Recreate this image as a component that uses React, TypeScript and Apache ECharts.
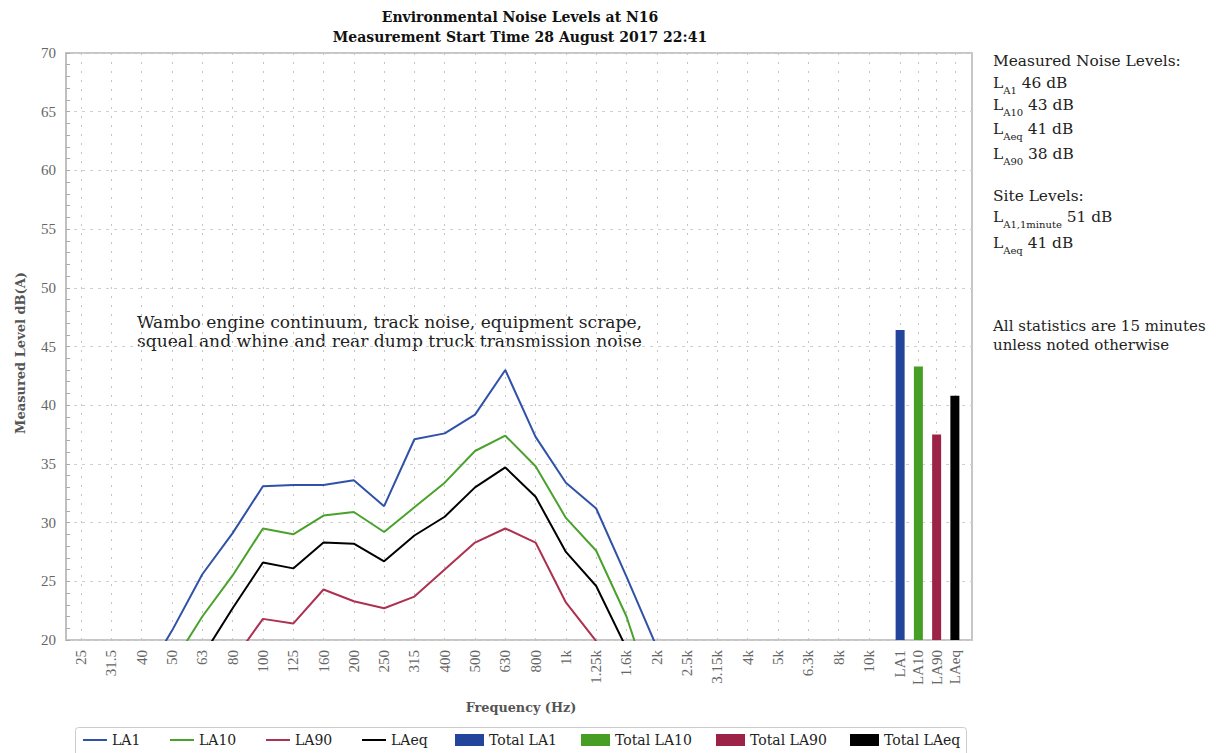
import React, { useEffect, useRef } from "react";
import * as echarts from "echarts";

// ---------- data ----------
const frequencies = ["25", "31.5", "40", "50", "63", "80", "100", "125", "160", "200", "250", "315", "400", "500", "630", "800", "1k", "1.25k", "1.6k", "2k", "2.5k", "3.15k", "4k", "5k", "6.3k", "8k", "10k"];
const totalCategories = ["LA1", "LA10", "LA90", "LAeq"];

const la1 = [null, null, 16.5, 20.8, 25.6, 29.1, 33.1, 33.2, 33.2, 33.6, 31.4, 37.1, 37.6, 39.2, 43.0, 37.3, 33.4, 31.2, 25.4, 19.4, null, null, null, null, null, null, null];
const la10 = [null, null, null, 17.9, 22.0, 25.5, 29.5, 29.0, 30.6, 30.9, 29.2, 31.3, 33.4, 36.1, 37.4, 34.8, 30.4, 27.6, 22.0, 14.2, null, null, null, null, null, null, null];
const la90 = [null, null, null, null, null, 18.2, 21.8, 21.4, 24.3, 23.3, 22.7, 23.7, 26.0, 28.3, 29.5, 28.3, 23.2, 19.9, null, null, null, null, null, null, null, null, null];
const laeq = [null, null, null, null, 18.6, 22.7, 26.6, 26.1, 28.3, 28.2, 26.7, 28.9, 30.5, 33.0, 34.7, 32.2, 27.5, 24.6, 19.3, null, null, null, null, null, null, null, null];
const totalValues = [46.4, 43.3, 37.5, 40.8];

const lineNames = ["LA1", "LA10", "LA90", "LAeq"];
const barNames = ["Total LA1", "Total LA10", "Total LA90", "Total LAeq"];

const titleLines = ["Environmental Noise Levels at N16", "Measurement Start Time 28 August 2017 22:41"];
const annotationLines = ["Wambo engine continuum, track noise, equipment scrape,", "squeal and whine and rear dump truck transmission noise"];
const yAxisTitle = "Measured Level dB(A)";
const xAxisTitle = "Frequency (Hz)";

// right-hand notes: [main, subscript, rest]
const measuredHeader = "Measured Noise Levels:";
const measuredRows = [
  ["L", "A1", " 46 dB"],
  ["L", "A10", " 43 dB"],
  ["L", "Aeq", " 41 dB"],
  ["L", "A90", " 38 dB"],
];
const siteHeader = "Site Levels:";
const siteRows = [
  ["L", "A1,1minute", " 51 dB"],
  ["L", "Aeq", " 41 dB"],
];
const footnoteLines = ["All statistics are 15 minutes", "unless noted otherwise"];

// ---------- styles ----------
const lineColors = ["#2f51a8", "#4aa22c", "#ad3150", "#000000"];
const barColors = ["#22449a", "#469f24", "#9c2247", "#000000"];
const SERIF = "DejaVu Serif";
const TICK_FONT = "Liberation Serif";

const GRID_LEFT = 66;
const GRID_TOP = 53;
const GRID_W = 906;
const GRID_H = 587;

export default function App() {
  const ref = useRef<HTMLDivElement>(null);

  useEffect(() => {
    if (!ref.current) return;
    const chart = echarts.init(ref.current, undefined, { renderer: "svg" });

    const tickLabel = {
      fontFamily: TICK_FONT,
      fontSize: 15,
      color: "#666",
    };
    const dotted = { color: "#c4c4c4", type: [2, 7] as any, width: 1 };

    const lineSeries = [la1, la10, la90, laeq].map((d, i) => ({
      name: lineNames[i],
      type: "line",
      xAxisIndex: 1,
      yAxisIndex: 1,
      data: d,
      symbol: "none",
      connectNulls: false,
      clip: true,
      lineStyle: { color: lineColors[i], width: 2 },
      itemStyle: { color: lineColors[i] },
      z: 3,
    }));

    const barSeries = totalValues.map((v, i) => ({
      name: barNames[i],
      type: "bar",
      xAxisIndex: 2,
      yAxisIndex: 2,
      data: totalCategories.map((_, j) => (j === i ? v : "-")),
      barWidth: 9,
      barGap: "-100%",
      clip: true,
      itemStyle: { color: barColors[i] },
      z: 3,
    }));

    const legendLefts = [83, 170, 266, 362, 455, 581, 716, 850];
    const allNames = [...lineNames, ...barNames];
    const legends = allNames.map((n, i) => ({
      data: [n],
      left: legendLefts[i],
      top: i < 4 ? 733 : 733,
      padding: 0,
      itemWidth: i < 4 ? 24 : 29,
      itemHeight: i < 4 ? 2 : 12,
      icon: "rect",
      selectedMode: false,
      textStyle: { fontFamily: SERIF, fontSize: 14, color: "#222" },
    }));

    const mainSize = 15.4;
    const richStyles = {
      m: { fontFamily: SERIF, fontSize: mainSize, lineHeight: 24, fill: "#222" },
      s: { fontFamily: SERIF, fontSize: 10, lineHeight: 12, verticalAlign: "bottom", fill: "#222" },
    };
    const richText = (row: string[]) => `{m|${row[0]}}{s|${row[1]}}{m|${row[2]}}`;

    const notesX = 993;
    const measuredY = [83, 105, 129, 154];
    const siteY = [217, 243];

    const graphics: any[] = [
      {
        type: "text",
        x: 520,
        y: 7,
        style: {
          text: titleLines.join("\n"),
          fontFamily: SERIF,
          fontWeight: "bold",
          fontSize: 14,
          lineHeight: 20,
          fill: "#111",
          align: "center",
          verticalAlign: "top",
        },
      },
      {
        type: "text",
        x: 137,
        y: 312,
        style: {
          text: annotationLines.join("\n"),
          fontFamily: SERIF,
          fontSize: 17.1,
          lineHeight: 19,
          fill: "#222",
          align: "left",
          verticalAlign: "top",
        },
      },
      {
        type: "text",
        x: 20,
        y: 353,
        rotation: Math.PI / 2,
        style: {
          text: yAxisTitle,
          fontFamily: SERIF,
          fontWeight: "bold",
          fontSize: 13,
          fill: "#555",
          align: "center",
          verticalAlign: "middle",
        },
      },
      {
        type: "text",
        x: 521,
        y: 707,
        style: {
          text: xAxisTitle,
          fontFamily: SERIF,
          fontWeight: "bold",
          fontSize: 12.8,
          fill: "#555",
          align: "center",
          verticalAlign: "middle",
        },
      },
      {
        type: "rect",
        shape: { x: 75.5, y: 727.5, width: 891, height: 40, r: 3 },
        style: { fill: "none", stroke: "#cccccc", lineWidth: 1 },
        z: -1,
      },
      {
        type: "text",
        x: notesX,
        y: 61,
        style: { text: measuredHeader, fontFamily: SERIF, fontSize: mainSize, fill: "#222", align: "left", verticalAlign: "middle" },
      },
      ...measuredRows.map((row, i) => ({
        type: "text",
        x: notesX,
        y: measuredY[i],
        style: { text: richText(row), rich: richStyles, align: "left", verticalAlign: "middle" },
      })),
      {
        type: "text",
        x: notesX,
        y: 196,
        style: { text: siteHeader, fontFamily: SERIF, fontSize: mainSize, fill: "#222", align: "left", verticalAlign: "middle" },
      },
      ...siteRows.map((row, i) => ({
        type: "text",
        x: notesX,
        y: siteY[i],
        style: { text: richText(row), rich: richStyles, align: "left", verticalAlign: "middle" },
      })),
      {
        type: "text",
        x: notesX,
        y: 316,
        style: {
          text: footnoteLines.join("\n"),
          fontFamily: SERIF,
          fontSize: 15,
          lineHeight: 19,
          fill: "#222",
          align: "left",
          verticalAlign: "top",
        },
      },
    ];

    const option: any = {
      animation: false,
      backgroundColor: "#ffffff",
      grid: [
        { left: GRID_LEFT, top: GRID_TOP, width: GRID_W, height: GRID_H, show: true, borderColor: "#c6c6c6", borderWidth: 2, backgroundColor: "transparent" },
        { left: GRID_LEFT, top: GRID_TOP, width: 818, height: GRID_H },
        { left: 891, top: GRID_TOP, width: 73, height: GRID_H },
      ],
      xAxis: [
        { type: "value", gridIndex: 0, show: false, min: 0, max: 1 },
        {
          type: "category",
          gridIndex: 1,
          data: frequencies,
          boundaryGap: true,
          axisLine: { show: false },
          axisTick: { show: true, alignWithLabel: true, inside: true, length: GRID_H, lineStyle: dotted },
          axisLabel: { ...tickLabel, rotate: 90, interval: 0, margin: 10 },
          splitLine: { show: false },
        },
        {
          type: "category",
          gridIndex: 2,
          data: totalCategories,
          boundaryGap: true,
          axisLine: { show: false },
          axisTick: { show: true, alignWithLabel: true, inside: true, length: GRID_H, lineStyle: dotted },
          axisLabel: { ...tickLabel, rotate: 90, interval: 0, margin: 10 },
          splitLine: { show: false },
        },
      ],
      yAxis: [
        {
          type: "value",
          gridIndex: 0,
          min: 20,
          max: 70,
          interval: 5,
          axisLine: { show: true, lineStyle: { color: "#c0c0c0", width: 2 } },
          axisTick: { show: true, inside: true, length: 4, lineStyle: { color: "#aaa" } },
          minorTick: { show: true, splitNumber: 5, length: 4, lineStyle: { color: "#aaa" } },
          axisLabel: { ...tickLabel, margin: 10 },
          splitLine: { show: true, lineStyle: { color: "#cfcfcf", type: [3, 5], width: 1 } },
        },
        { type: "value", gridIndex: 1, min: 20, max: 70, show: false },
        { type: "value", gridIndex: 2, min: 20, max: 70, show: false, startValue: 20 },
      ],
      legend: legends,
      series: [...lineSeries, ...barSeries],
      graphic: graphics,
    };

    chart.setOption(option);
    return () => chart.dispose();
  }, []);

  return (
    <div
      ref={ref}
      style={{ position: "fixed", left: 0, top: 0, width: 1216, height: 753, background: "#fff" }}
    />
  );
}
